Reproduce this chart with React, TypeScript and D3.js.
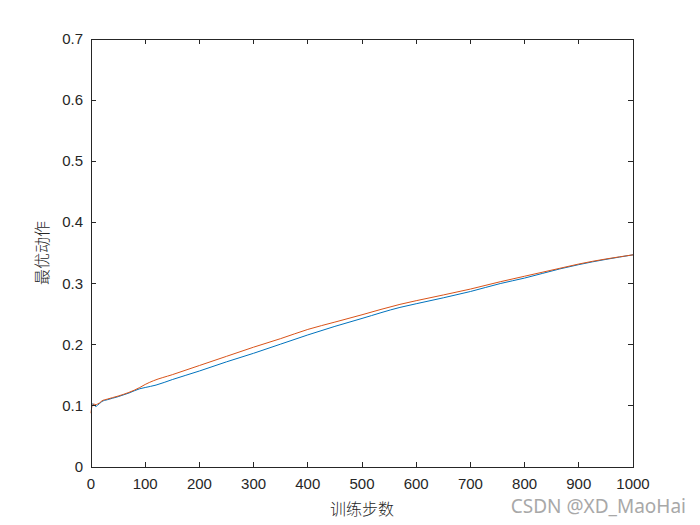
import React from "react";
import * as d3 from "d3";

const blueSteps = [0, 3, 6, 9, 12, 16, 20, 30, 50, 70, 90, 100, 120, 150, 200, 250, 300, 350, 400, 450, 500, 570, 600, 700, 755, 800, 865, 900, 1000];
const blueVals = [0.105, 0.103, 0.101, 0.099, 0.101, 0.104, 0.107, 0.110, 0.115, 0.121, 0.128, 0.130, 0.134, 0.143, 0.157, 0.172, 0.186, 0.201, 0.216, 0.230, 0.243, 0.261, 0.267, 0.287, 0.300, 0.309, 0.324, 0.331, 0.347];

const orangeSteps = [0, 2, 5, 9, 12, 16, 20, 30, 50, 70, 90, 100, 115, 150, 200, 250, 300, 350, 400, 450, 500, 570, 600, 700, 755, 800, 865, 900, 1000];
const orangeVals = [0.088, 0.100, 0.103, 0.102, 0.103, 0.105, 0.108, 0.111, 0.116, 0.122, 0.130, 0.135, 0.141, 0.151, 0.166, 0.181, 0.196, 0.210, 0.225, 0.237, 0.249, 0.266, 0.272, 0.291, 0.303, 0.312, 0.325, 0.332, 0.347];

const xTicks = [0, 100, 200, 300, 400, 500, 600, 700, 800, 900, 1000];
const yTicks = [0, 0.1, 0.2, 0.3, 0.4, 0.5, 0.6, 0.7];

const xLabel = "训练步数";
const yLabel = "最优动作";
const watermark = "CSDN @XD_MaoHai";

export default function App() {
  const W = 700, H = 525;
  const left = 91, right = 633, top = 39, bottom = 467;
  const x = d3.scaleLinear().domain([0, 1000]).range([left, right]);
  const y = d3.scaleLinear().domain([0, 0.7]).range([bottom, top]);
  const line = d3.line<[number, number]>().x(d => x(d[0])).y(d => y(d[1])).curve(d3.curveMonotoneX);
  const blue = line(blueSteps.map((s, i) => [s, blueVals[i]] as [number, number])) || "";
  const orange = line(orangeSteps.map((s, i) => [s, orangeVals[i]] as [number, number])) || "";
  const tl = 5;
  const font = "Arial, 'Liberation Sans', Helvetica, sans-serif";
  const cjk = "'Noto Sans CJK SC', sans-serif";
  return (
    <svg width={W} height={H} style={{ position: "absolute", left: 0, top: 0, background: "#fff" }}>
      <rect x={0} y={0} width={W} height={H} fill="#fff" />
      <path d={blue} fill="none" stroke="#0072BD" strokeWidth={1} />
      <path d={orange} fill="none" stroke="#D95319" strokeWidth={1} />
      <rect x={left} y={top} width={right - left} height={bottom - top} fill="none" stroke="#262626" strokeWidth={1} shapeRendering="crispEdges" />
      {xTicks.map(t => (
        <g key={"x" + t}>
          <line x1={x(t)} x2={x(t)} y1={bottom} y2={bottom - tl} stroke="#262626" shapeRendering="crispEdges" />
          <line x1={x(t)} x2={x(t)} y1={top} y2={top + tl} stroke="#262626" shapeRendering="crispEdges" />
          <text x={x(t)} y={bottom + 22} textAnchor="middle" fontFamily={font} fontSize={15} fill="#262626">{t}</text>
        </g>
      ))}
      {yTicks.map(t => (
        <g key={"y" + t}>
          <line x1={left} x2={left + tl} y1={y(t)} y2={y(t)} stroke="#262626" shapeRendering="crispEdges" />
          <line x1={right} x2={right - tl} y1={y(t)} y2={y(t)} stroke="#262626" shapeRendering="crispEdges" />
          <text x={left - 8} y={y(t) + 5} textAnchor="end" fontFamily={font} fontSize={15} fill="#262626">{t === 0 ? "0" : t.toFixed(1)}</text>
        </g>
      ))}
      <text x={362} y={515} textAnchor="middle" fontFamily={cjk} fontSize={16} fontWeight={300} fill="#262626">{xLabel}</text>
      <text transform={`translate(48,253) rotate(-90)`} textAnchor="middle" fontFamily={cjk} fontSize={16} fontWeight={300} fill="#262626">{yLabel}</text>
      <text x={686} y={513} textAnchor="end" fontFamily={"'Noto Sans', sans-serif"} fontSize={19} fill="#a8a8a8">{watermark}</text>
    </svg>
  );
}
